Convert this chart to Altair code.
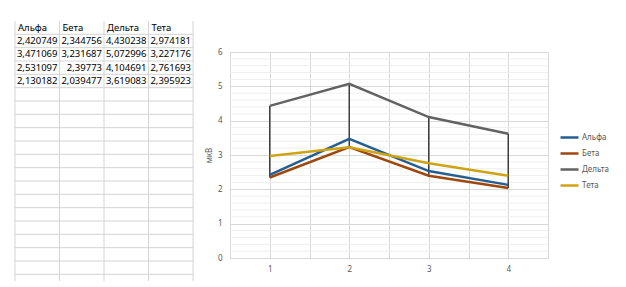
import altair as alt
import pandas as pd

# ---- data ----
series = ["Альфа", "Бета", "Дельта", "Тета"]
points = [1, 2, 3, 4]
alpha = [2.420749, 3.471069, 2.531097, 2.130182]
beta = [2.344756, 3.231687, 2.39773, 2.039477]
delta = [4.430238, 5.072996, 4.104691, 3.619083]
teta = [2.974181, 3.227176, 2.761693, 2.395923]
colors = ["#255e91", "#9e480e", "#636363", "#cfa414"]
y_major = [0, 1, 2, 3, 4, 5, 6]
y_minor = [round(i * 0.2, 1) for i in range(31) if i % 5 != 0]
x_grid = [0.5, 1, 1.5, 2, 2.5, 3, 3.5, 4, 4.5]
n_rows = 19.5
FONT = "Noto Sans"

values = [alpha, beta, delta, teta]
long = pd.DataFrame(
    [{"series": s, "point": p, "value": v}
     for s, vals in zip(series, values) for p, v in zip(points, vals)]
)

# ---- spreadsheet panel ----
cells = []
for ci, s in enumerate(series):
    cells.append({"col": ci, "row": 0.5, "txt": s, "hdr": 1})
    for ri, v in enumerate(values[ci]):
        cells.append({"col": ci + 1, "row": ri + 1.5,
                      "txt": str(v).replace(".", ","), "hdr": 0})
cells = pd.DataFrame(cells)

xs = alt.Scale(domain=[0, 4])
ys = alt.Scale(domain=[0, n_rows], reverse=True)

hlines = pd.DataFrame({"r": list(range(1, 20)), "x0": 0, "x1": 4})
vlines = pd.DataFrame({"c": list(range(0, 5)), "y0": 0, "y1": n_rows})

h_rule = alt.Chart(hlines).mark_rule(color="#d4d4d4", strokeWidth=1).encode(
    x=alt.X("x0:Q", scale=xs, axis=None), x2="x1:Q",
    y=alt.Y("r:Q", scale=ys, axis=None))
v_rule = alt.Chart(vlines).mark_rule(color="#d4d4d4", strokeWidth=1).encode(
    x=alt.X("c:Q", scale=xs, axis=None),
    y=alt.Y("y0:Q", scale=ys, axis=None), y2="y1:Q")
hdr_txt = alt.Chart(cells).transform_filter("datum.hdr == 1").mark_text(
    align="left", baseline="middle", dx=3, font=FONT, fontSize=9.5, color="#000000"
).encode(x=alt.X("col:Q", scale=xs, axis=None),
         y=alt.Y("row:Q", scale=ys, axis=None), text="txt:N")
num_txt = alt.Chart(cells).transform_filter("datum.hdr == 0").mark_text(
    align="right", baseline="middle", dx=-2, font=FONT, fontSize=9.5, color="#000000"
).encode(x=alt.X("col:Q", scale=xs, axis=None),
         y=alt.Y("row:Q", scale=ys, axis=None), text="txt:N")

table = alt.layer(h_rule, v_rule, hdr_txt, num_txt).properties(
    width=178, height=260, view=alt.ViewBackground(stroke="transparent"))

# ---- line chart ----
xsc = alt.Scale(domain=[0.5, 4.5], nice=False)
ysc = alt.Scale(domain=[0, 6], nice=False)

x_axis = alt.Axis(values=x_grid, grid=True, gridColor="#d9d9d9", ticks=False,
                  domain=False, labelExpr="datum.value % 1 == 0 ? datum.value : ''",
                  labelColor="#595959", labelFontSize=8, labelPadding=7,
                  labelFont=FONT, title=None)
y_axis = alt.Axis(values=y_major, grid=True, gridColor="#d9d9d9", ticks=False,
                  domain=False, labelColor="#595959", labelFontSize=8,
                  labelPadding=8, labelFont=FONT, title="мкВ", titleFont=FONT,
                  titleFontSize=8, titleColor="#595959", titleFontWeight="normal",
                  titlePadding=4)

minor = alt.Chart(pd.DataFrame({"m": y_minor})).mark_rule(
    color="#efefef", strokeWidth=1).encode(y=alt.Y("m:Q", scale=ysc, axis=y_axis))

hilo = alt.Chart(long).transform_aggregate(
    hi="max(value)", lo="min(value)", groupby=["point"]
).mark_rule(color="#3f3f3f", strokeWidth=1.5).encode(
    x=alt.X("point:Q", scale=xsc, axis=x_axis),
    y=alt.Y("hi:Q", scale=ysc, axis=y_axis), y2="lo:Q")

lines = alt.Chart(long).mark_line(strokeWidth=2.5).encode(
    x=alt.X("point:Q", scale=xsc, axis=x_axis),
    y=alt.Y("value:Q", scale=ysc, axis=y_axis),
    color=alt.Color("series:N", scale=alt.Scale(domain=series, range=colors),
                    sort=series,
                    legend=alt.Legend(orient="none", legendX=544, legendY=106,
                                      title=None, symbolType="stroke",
                                      symbolSize=324, symbolStrokeWidth=2.5,
                                      labelFont=FONT, labelFontSize=8,
                                      labelColor="#595959", rowPadding=-2,
                                      labelOffset=2)),
    order="point:Q")

plot = alt.layer(minor, hilo, lines).properties(
    width=318, height=206, view=alt.ViewBackground(stroke="#d9d9d9"))

spacer = alt.Chart(pd.DataFrame({"a": [0]})).mark_point(opacity=0).encode(
    x=alt.X("a:Q", axis=None), y=alt.Y("a:Q", axis=None)
).properties(width=10, height=1, view=alt.ViewBackground(stroke="transparent"))

right = alt.vconcat(spacer, plot, spacing=22)

chart = alt.hconcat(table, right, spacing=10).properties(
    padding={"left": 6, "top": 10, "right": 0, "bottom": 0})

chart.save("out.html", embed_options={"renderer": "svg", "actions": False})
